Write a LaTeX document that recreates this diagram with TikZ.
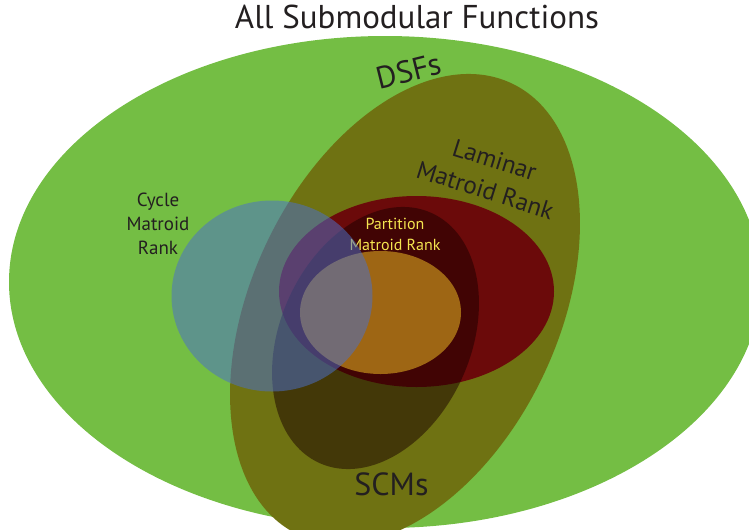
\documentclass[tikz,border=0pt]{standalone}
\usepackage{fontspec}
\setmainfont{PT Sans}

\begin{document}
\begin{tikzpicture}[x=0.75pt,y=0.75pt,yscale=-1,xscale=1,
  lbl/.style={color={rgb, 255:red, 35; green, 31; blue, 32 }, align=center, inner sep=0pt}]
\useasboundingbox (0,0) rectangle (749,529);
\clip (0,0) rectangle (749,529);

%Shape: Ellipse - all submodular functions
\fill [color={rgb, 255:red, 116; green, 190; blue, 68 }] (385,282) ellipse (376 and 246);
%Shape: Ellipse - DSFs
\fill [color={rgb, 255:red, 111; green, 114; blue, 18 }, rotate around={25.3:(405,309)}] (405,309) ellipse (153.4 and 249.6);
%Shape: Ellipse - laminar matroid rank
\fill [color={rgb, 255:red, 107; green, 10; blue, 10 }] (416.5,291.5) ellipse (137.5 and 95.5);
%Shape: Ellipse - SCMs
\fill [color={rgb, 255:red, 25; green, 0; blue, 0 }, fill opacity=0.5, rotate around={24:(375.5,338)}] (375.5,338) ellipse (95.4 and 137);
%Shape: Ellipse - partition matroid rank
\fill [color={rgb, 255:red, 158; green, 102; blue, 20 }] (380.5,312.5) ellipse (80.5 and 61.5);

% Text Node
\node (partition) [lbl, color={rgb, 255:red, 245; green, 230; blue, 80 }, font=\fontsize{12}{15.75}\selectfont] at (395,234) {Partition\\Matroid Rank};

%Shape: Ellipse - cycle matroid rank
\fill [color={rgb, 255:red, 75; green, 112; blue, 202 }, fill opacity=0.53] (272,296) ellipse (100.5 and 95.5);

% Text Node
\node (title) [lbl, anchor=base, font=\fontsize{24.75}{30}\selectfont] at (417,28) {All Submodular Functions};
% Text Node
\node (dsfs) [lbl, rotate=14, font=\fontsize{23.25}{28}\selectfont] at (409,71) {DSFs};
% Text Node
\node (laminar) [lbl, rotate=-17.5, font=\fontsize{18.75}{23.7}\selectfont] at (490,175) {Laminar\\Matroid Rank};
% Text Node
\node (cycle) [lbl, font=\fontsize{14.25}{18}\selectfont] at (158,224) {Cycle\\Matroid\\Rank};
% Text Node
\node (scms) [lbl, font=\fontsize{24}{28}\selectfont] at (391.5,484) {SCMs};

\end{tikzpicture}
\end{document}
